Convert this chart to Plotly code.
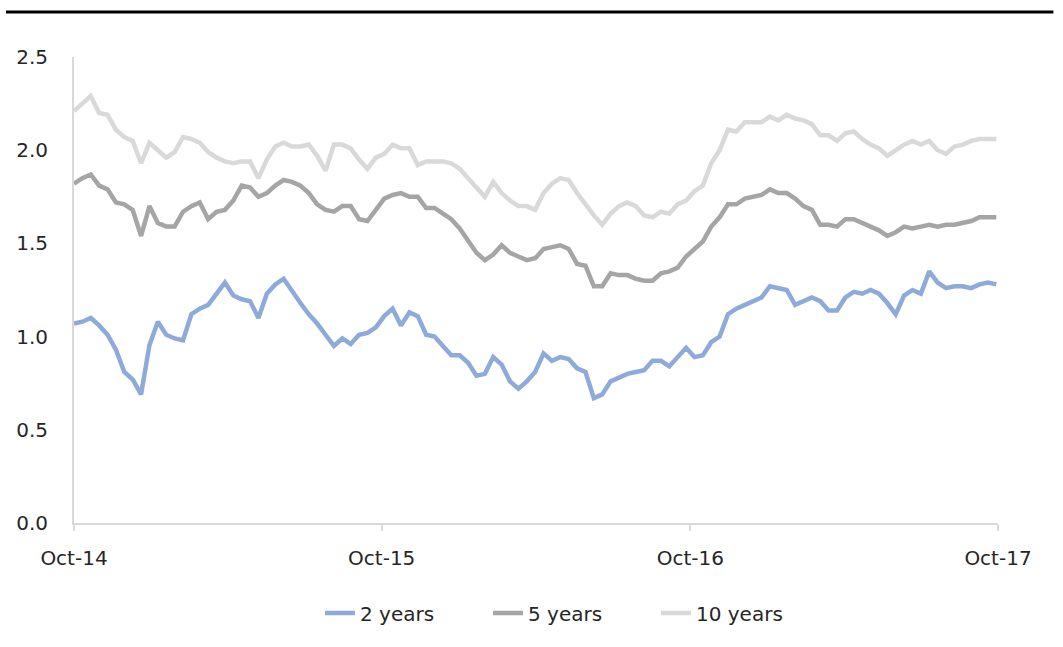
import pandas as pd
import plotly.graph_objects as go

dates = pd.date_range("2014-10-01", "2017-09-29", periods=111)

y2 = [1.07, 1.08, 1.10, 1.06, 1.01, 0.93, 0.81, 0.77, 0.69, 0.955,
      1.08, 1.01, 0.99, 0.98, 1.12, 1.15, 1.17, 1.23, 1.29, 1.22,
      1.20, 1.19, 1.10, 1.23, 1.28, 1.31, 1.24, 1.18, 1.12, 1.07,
      1.01, 0.95, 0.99, 0.96, 1.01, 1.02, 1.05, 1.11, 1.15, 1.06,
      1.13, 1.11, 1.01, 1.00, 0.95, 0.90, 0.90, 0.86, 0.79, 0.80,
      0.89, 0.85, 0.76, 0.72, 0.76, 0.81, 0.91, 0.87, 0.89, 0.88,
      0.83, 0.81, 0.67, 0.69, 0.76, 0.78, 0.80, 0.81, 0.82, 0.87,
      0.87, 0.84, 0.89, 0.94, 0.89, 0.90, 0.97, 1.00, 1.12, 1.15,
      1.17, 1.19, 1.21, 1.27, 1.26, 1.25, 1.17, 1.19, 1.21, 1.19,
      1.14, 1.14, 1.21, 1.24, 1.23, 1.25, 1.23, 1.18, 1.12, 1.22,
      1.25, 1.23, 1.35, 1.29, 1.26, 1.27, 1.27, 1.26, 1.28, 1.29,
      1.28]

y5 = [1.82, 1.85, 1.87, 1.81, 1.79, 1.72, 1.71, 1.68, 1.54, 1.70,
      1.61, 1.59, 1.59, 1.67, 1.70, 1.72, 1.63, 1.67, 1.68, 1.73,
      1.81, 1.80, 1.75, 1.77, 1.81, 1.84, 1.83, 1.81, 1.77, 1.71,
      1.68, 1.67, 1.70, 1.70, 1.63, 1.62, 1.68, 1.74, 1.76, 1.77,
      1.75, 1.75, 1.69, 1.69, 1.66, 1.63, 1.58, 1.51, 1.45, 1.41,
      1.44, 1.49, 1.45, 1.43, 1.41, 1.42, 1.47, 1.48, 1.49, 1.47,
      1.39, 1.38, 1.27, 1.27, 1.34, 1.33, 1.33, 1.31, 1.30, 1.30,
      1.34, 1.35, 1.37, 1.43, 1.47, 1.51, 1.59, 1.64, 1.71, 1.71,
      1.74, 1.75, 1.76, 1.79, 1.77, 1.77, 1.74, 1.70, 1.68, 1.60,
      1.60, 1.59, 1.63, 1.63, 1.61, 1.59, 1.57, 1.54, 1.56, 1.59,
      1.58, 1.59, 1.60, 1.59, 1.60, 1.60, 1.61, 1.62, 1.64, 1.64,
      1.64]

y10 = [2.21, 2.25, 2.29, 2.20, 2.19, 2.11, 2.07, 2.05, 1.93, 2.04,
       2.00, 1.96, 1.99, 2.07, 2.06, 2.04, 1.99, 1.96, 1.94, 1.93,
       1.94, 1.94, 1.85, 1.95, 2.02, 2.04, 2.02, 2.02, 2.03, 1.97,
       1.89, 2.03, 2.03, 2.01, 1.95, 1.90, 1.96, 1.98, 2.03, 2.01,
       2.01, 1.92, 1.94, 1.94, 1.94, 1.93, 1.90, 1.85, 1.80, 1.75,
       1.83, 1.77, 1.73, 1.70, 1.70, 1.68, 1.77, 1.82, 1.85, 1.84,
       1.77, 1.71, 1.65, 1.60, 1.66, 1.70, 1.72, 1.70, 1.65, 1.64,
       1.67, 1.66, 1.71, 1.73, 1.78, 1.81, 1.93, 2.00, 2.11, 2.10,
       2.15, 2.15, 2.15, 2.18, 2.16, 2.19, 2.17, 2.16, 2.14, 2.08,
       2.08, 2.05, 2.09, 2.10, 2.06, 2.03, 2.01, 1.97, 2.00, 2.03,
       2.05, 2.03, 2.05, 2.00, 1.98, 2.02, 2.03, 2.05, 2.06, 2.06,
       2.06]

series_names = ["2 years", "5 years", "10 years"]
series_colors = ["#8eaadb", "#a5a5a5", "#d9d9d9"]
tick_dates = ["2014-10-01", "2015-10-01", "2016-10-01", "2017-10-01"]
tick_labels = ["Oct-14", "Oct-15", "Oct-16", "Oct-17"]

fig = go.Figure()
for name, vals, col in zip(series_names, [y2, y5, y10], series_colors):
    fig.add_trace(go.Scatter(x=dates, y=vals, mode="lines", name=name,
                             line=dict(color=col, width=4.5)))

font_family = "DejaVu Sans"
fig.update_layout(
    width=1063, height=647,
    margin=dict(l=74, r=65, t=57, b=124),
    plot_bgcolor="white", paper_bgcolor="white",
    font=dict(family=font_family, size=20, color="#262626"),
    showlegend=True,
    legend=dict(orientation="h", x=0.2662, y=-0.193, xanchor="left",
                yanchor="middle", font=dict(size=20),
                entrywidth=123, entrywidthmode="pixels",
                tracegroupgap=0, borderwidth=0),
    xaxis=dict(range=["2014-10-01", "2017-10-01"], tickvals=tick_dates,
               ticktext=tick_labels, showgrid=False, showline=True,
               linecolor="#d9d9d9", linewidth=2, ticks="outside",
               tickcolor="#d9d9d9", ticklen=6, tickwidth=2,
               ticklabelstandoff=10, zeroline=False),
    yaxis=dict(range=[0, 2.5], dtick=0.5, tickformat=".1f", showgrid=False,
               showline=True, linecolor="#d9d9d9", linewidth=2, ticks="",
               ticklabelstandoff=20, zeroline=False),
    shapes=[dict(type="line", xref="paper", yref="paper", x0=-0.0736,
                 x1=1.06, y0=1.0966, y1=1.0966,
                 line=dict(color="black", width=3))],
)

fig.write_html("out.html")
